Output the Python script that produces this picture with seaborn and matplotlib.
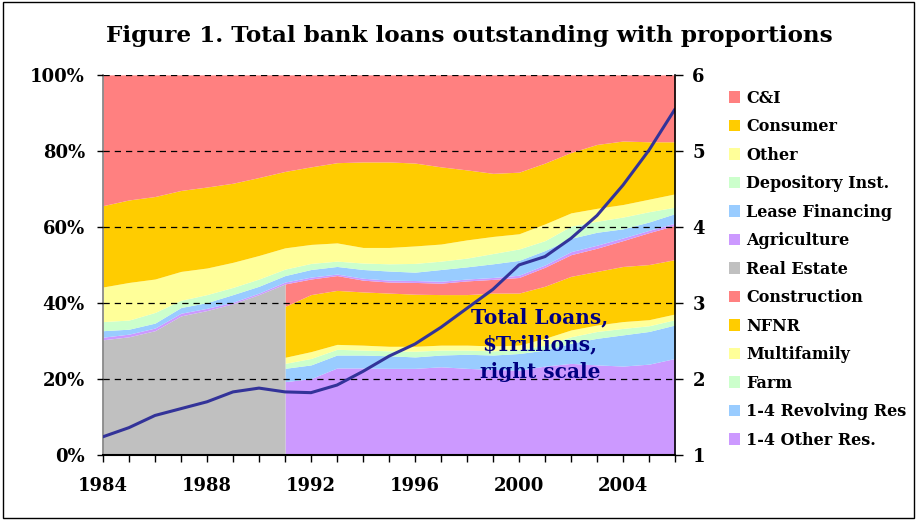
import numpy as np
import matplotlib
matplotlib.use("Agg")
import matplotlib.pyplot as plt
from matplotlib.patches import Rectangle
import seaborn as sns

# --- Daten (Anteile in % der gesamten Kredite) ---
years = list(range(1984, 2007))
re_years = years[:8]          # 1984-1991, nur Gesamtwert Real Estate
sub_years = years[7:]         # 1991-2006, Aufteilung Real Estate

c_and_i = [34.4, 32.9, 32.0, 30.4, 29.5, 28.5, 27.0, 25.4, 24.2, 23.1, 22.9, 22.9,
           23.2, 24.2, 25.0, 25.9, 25.6, 23.2, 20.4, 18.3, 17.4, 17.6, 17.6]
consumer = [21.4, 21.7, 21.7, 21.3, 21.3, 20.8, 20.5, 20.1, 20.4, 21.1, 22.5, 22.5,
            21.8, 20.3, 18.4, 16.6, 16.2, 16.0, 15.9, 16.8, 16.7, 15.1, 13.7]
other = [9.1, 9.9, 8.8, 7.6, 7.0, 6.6, 6.2, 5.6, 5.0, 4.8, 4.1, 4.3,
         4.6, 4.5, 4.8, 4.5, 4.0, 4.4, 3.5, 3.4, 3.3, 3.3, 3.5]
depository = [2.4, 2.4, 2.8, 1.9, 2.1, 1.9, 1.9, 1.7, 1.6, 1.4, 1.7, 1.9,
              2.3, 2.2, 2.3, 2.7, 3.0, 2.6, 3.2, 2.9, 3.1, 2.7, 1.7]
lease = [1.7, 1.3, 1.3, 1.5, 1.5, 2.0, 1.8, 1.7, 2.0, 2.0, 2.3, 2.4,
         2.2, 3.1, 3.2, 3.6, 3.9, 3.8, 3.5, 3.4, 2.4, 2.2, 2.5]
agriculture = [0.7, 0.7, 0.7, 0.7, 0.6, 0.4, 0.4, 0.5, 0.5, 0.4, 0.5, 0.5,
               0.5, 0.5, 0.5, 0.5, 0.6, 0.6, 0.8, 0.8, 0.7, 0.6, 0.6]
real_estate = [30.3, 31.1, 32.7, 36.6, 38.0, 39.8, 42.2, 45.0]

construction = [5.9, 4.1, 3.9, 3.1, 2.9, 3.1, 3.0, 3.6, 3.6, 4.1, 5.0, 5.7, 6.1, 6.8, 8.4, 9.0]
nfnr = [13.4, 15.0, 14.2, 14.0, 14.0, 13.7, 13.3, 13.3, 13.9, 13.7, 13.7, 14.1, 14.1, 14.5, 14.5, 14.3]
multifamily = [1.6, 1.8, 1.3, 1.3, 1.2, 1.3, 1.3, 1.3, 1.3, 1.2, 1.8, 1.8, 1.7, 1.8, 1.6, 1.5]
farm = [1.3, 1.7, 1.5, 1.3, 1.3, 1.5, 1.3, 1.1, 1.1, 1.0, 1.3, 1.7, 1.8, 1.7, 1.5, 1.4]
revolving_res = [3.5, 3.6, 3.4, 3.4, 3.3, 3.0, 3.1, 3.7, 3.8, 4.4, 4.2, 5.3, 7.0, 8.2, 8.6, 8.8]
other_res = [19.3, 20.1, 22.9, 22.9, 22.8, 22.8, 23.2, 22.8, 22.5, 22.3, 23.4, 24.1, 23.7, 23.4, 23.9, 25.4]

# Gesamtkredite in Billionen $ (rechte Skala)
total_loans = [1.24, 1.36, 1.52, 1.61, 1.70, 1.83, 1.88, 1.83, 1.82, 1.92, 2.10, 2.30,
               2.46, 2.68, 2.93, 3.18, 3.50, 3.61, 3.85, 4.15, 4.55, 5.01, 5.55]

# --- Stil ---
sns.set_style("ticks")
plt.rcParams["font.family"] = ["DejaVu Serif"]
plt.rcParams["font.weight"] = "bold"
plt.rcParams["text.color"] = "black"
plt.rcParams["xtick.color"] = "black"
plt.rcParams["ytick.color"] = "black"

# 1991 kommt doppelt vor: einmal mit Real Estate gesamt, einmal aufgeteilt
x = np.array(re_years + sub_years)
n_re = len(re_years)
n_sub = len(sub_years)


def both(vals):
    vals = list(vals)
    return np.array(vals[:n_re] + vals[n_re - 1:])


def only_re(vals):
    return np.concatenate([vals, np.zeros(n_sub)])


def only_sub(vals):
    return np.concatenate([np.zeros(n_re), vals])


series = [
    ("1-4 Other Res.", only_sub(other_res), "#CC99FF"),
    ("1-4 Revolving Res", only_sub(revolving_res), "#99CCFF"),
    ("Farm", only_sub(farm), "#CCFFCC"),
    ("Multifamily", only_sub(multifamily), "#FFFF99"),
    ("NFNR", only_sub(nfnr), "#FFCC00"),
    ("Construction", only_sub(construction), "#FF8080"),
    ("Real Estate", only_re(real_estate), "#C0C0C0"),
    ("Agriculture", both(agriculture), "#CC99FF"),
    ("Lease Financing", both(lease), "#99CCFF"),
    ("Depository Inst.", both(depository), "#CCFFCC"),
    ("Other", both(other), "#FFFF99"),
    ("Consumer", both(consumer), "#FFCC00"),
    ("C&I", both(c_and_i), "#FF8080"),
]

fig = plt.figure(figsize=(9.18, 5.2), dpi=100)
ax = fig.add_axes([0.1122, 0.125, 0.6231, 0.731])

polys = ax.stackplot(x, [s[1] for s in series], labels=[s[0] for s in series],
                     colors=[s[2] for s in series], linewidth=0)

ax.set_xlim(1984, 2006)
ax.set_ylim(0, 100)
ax.set_yticks([0, 20, 40, 60, 80, 100])
ax.set_yticklabels([f"{v}%" for v in [0, 20, 40, 60, 80, 100]], fontsize=13)
ax.set_xticks(years)
ax.set_xticklabels([str(y) if (y - 1984) % 4 == 0 else "" for y in years], fontsize=13)
ax.tick_params(axis="x", direction="out", length=5, width=1, pad=11)
ax.tick_params(axis="y", direction="out", length=4.5, width=1, pad=8.5)
ax.yaxis.grid(True, linestyle=(0, (5, 4)), color="black", linewidth=0.9)
ax.set_axisbelow(False)
for side in ["top", "right"]:
    ax.spines[side].set_visible(False)
ax.spines["left"].set_color("#808080")
ax.spines["left"].set_linewidth(1.2)
ax.spines["bottom"].set_color("black")
ax.spines["bottom"].set_linewidth(1.5)

# Linie: Gesamtkredite
ax2 = ax.twinx()
sns.lineplot(x=years, y=total_loans, ax=ax2, color="#333399", linewidth=2.2)
ax2.set_ylim(1, 6)
ax2.set_yticks([1, 2, 3, 4, 5, 6])
ax2.set_yticklabels(["1", "2", "3", "4", "5", "6"], fontsize=13)
ax2.tick_params(axis="y", direction="out", length=5.5, width=1, pad=7)
ax2.set_xlim(1984, 2006)
ax2.set_ylabel("")
for side in ["top", "left", "bottom"]:
    ax2.spines[side].set_visible(False)
ax2.spines["right"].set_color("black")
ax2.spines["right"].set_linewidth(1.2)

ax.text(0.764, 0.29, "Total Loans,\n$Trillions,\nright scale", transform=ax.transAxes,
        ha="center", va="center", color="#000080", fontsize=14.5, fontweight="bold",
        linespacing=1.45, zorder=5)

fig.suptitle("Figure 1. Total bank loans outstanding with proportions",
             x=0.511, y=0.951, fontsize=16.7, fontweight="bold", color="black")

handles = polys[::-1]
labels = [s[0] for s in series][::-1]
fig.legend(handles, labels, loc="upper left", bbox_to_anchor=(0.785, 0.843),
           frameon=False, fontsize=11.5, handlelength=0.7, handleheight=0.7,
           handletextpad=0.4, labelspacing=0.72, borderpad=0)

fig.patches.append(Rectangle((0.003, 0.004), 0.993, 0.992, transform=fig.transFigure,
                             fill=False, edgecolor="black", linewidth=1))

fig.savefig("out.png", dpi=100, facecolor="white")
